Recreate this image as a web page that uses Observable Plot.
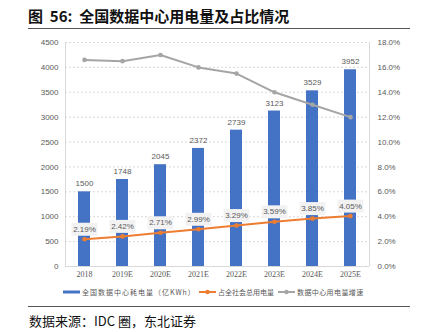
<!DOCTYPE html>
<html><head><meta charset="utf-8">
<script src="https://cdn.jsdelivr.net/npm/d3@7"></script>
<script src="https://cdn.jsdelivr.net/npm/@observablehq/plot@0.6"></script>
<style>
body{margin:0;background:#fff;width:421px;height:332px;position:relative;overflow:hidden;font-family:"Noto Sans CJK SC",sans-serif;}
#title{position:absolute;left:28px;top:5px;font-size:15px;font-weight:bold;color:#111;white-space:nowrap;}
#rule1{position:absolute;left:28px;top:28px;width:382px;height:1px;background:#555;}
#chart{position:absolute;left:0;top:32px;}
#legend{position:absolute;left:0;top:286px;width:421px;height:12px;font-size:7px;color:#595959;white-space:nowrap;}
#legend span.item{position:absolute;top:0;display:inline-flex;align-items:center;height:12px;}
#rule2{position:absolute;left:28px;top:306px;width:382px;height:1px;background:#555;}
#footer{position:absolute;left:29px;top:311px;font-size:13px;color:#111;white-space:nowrap;}
</style></head>
<body>
<div id="title">图&nbsp; 56:&nbsp; 全国数据中心用电量及占比情况</div>
<div id="rule1"></div>
<div id="chart"></div>
<div id="legend"></div>
<div id="rule2"></div>
<div id="footer">数据来源：IDC 圈，东北证券</div>
<script>
const years = ["2018","2019E","2020E","2021E","2022E","2023E","2024E","2025E"];
const consumption = [1500,1748,2045,2372,2739,3123,3529,3952];
const share = [2.19,2.42,2.71,2.99,3.29,3.59,3.85,4.05];
const growth = [16.6,16.5,17.0,16.0,15.5,14.0,13.0,12.0];
const leftTicks = [0,500,1000,1500,2000,2500,3000,3500,4000,4500];
const rightTicks = [0,2,4,6,8,10,12,14,16,18];
const seriesNames = ["全国数据中心耗电量（亿KWh）","占全社会总用电量","数据中心用电量增速"];
const colors = ["#4472C4","#ED7D31","#A5A5A5"];

const K = 4500/18; // right axis mapped onto left domain
const data = years.map((y,i)=>({year:y, c:consumption[i], s:share[i], g:growth[i]}));
const boxSymbol = {draw(ctx){ctx.moveTo(-13,-6.5);ctx.lineTo(13,-6.5);ctx.lineTo(13,6.5);ctx.lineTo(-13,6.5);ctx.closePath();}};

const plot = Plot.plot({
  width:421, height:250,
  marginLeft:65, marginRight:52, marginTop:10, marginBottom:16,
  style:{fontFamily:"'Liberation Sans',sans-serif", fontSize:"8px", color:"#595959", background:"transparent"},
  x:{type:"band", domain:years, padding:0, label:null},
  y:{domain:[0,4500], label:null},
  marks:[
    Plot.gridY(leftTicks.slice(1),{stroke:"#D9D9D9", strokeOpacity:1, strokeDasharray:"2,2"}),
    Plot.ruleX([years[0]],{stroke:"#D9D9D9", dx:-19}),
    Plot.ruleX([years[years.length-1]],{stroke:"#D9D9D9", dx:19}),
    Plot.barY(data,{x:"year", y:"c", fill:colors[0], insetLeft:13, insetRight:13}),
    Plot.ruleY([0],{stroke:"#D9D9D9"}),
    Plot.text(data,{x:"year", y:"c", text:d=>String(d.c), dy:-8, fill:"#595959", fontSize:8}),
    Plot.line(data,{x:"year", y:d=>d.g*K, stroke:colors[2], strokeWidth:2}),
    Plot.dot(data,{x:"year", y:d=>d.g*K, fill:colors[2], r:2.3}),
    Plot.line(data,{x:"year", y:d=>d.s*K, stroke:colors[1], strokeWidth:2}),
    Plot.dot(data,{x:"year", y:d=>d.s*K, fill:colors[1], r:2.3}),
    Plot.dot(data,{x:"year", y:d=>d.s*K, symbol:boxSymbol, fill:"#F2F2F2", stroke:"none", dy:-10}),
    Plot.text(data,{x:"year", y:d=>d.s*K, text:d=>d.s.toFixed(2)+"%", dy:-10, fill:"#595959", fontSize:8}),
    Plot.axisY(leftTicks,{anchor:"left", tickSize:0, tickPadding:7, tickFormat:d=>String(d), fill:"#595959", fontSize:8}),
    Plot.axisY(rightTicks.map(t=>t*K),{anchor:"right", tickSize:0, tickPadding:8, tickFormat:d=>(d/K).toFixed(1)+"%", fill:"#595959", fontSize:8}),
    Plot.axisX({tickSize:0, tickPadding:5, fill:"#595959", fontSize:8, fontFamily:"'Liberation Serif',serif"})
  ]
});
document.getElementById("chart").appendChild(plot);

const lg = document.getElementById("legend");
const legendLeft = [63,199,278];
const legendSpacing = ["1px","0px","0.4px"];
seriesNames.forEach((n,i)=>{
  const it = document.createElement("span"); it.className="item";
  it.style.left = legendLeft[i]+"px";
  let sw;
  if(i===0){
    sw = `<svg width="17" height="4" style="margin-right:2px"><rect x="0" y="0.5" width="17" height="3" fill="${colors[0]}"/></svg>`;
  } else {
    sw = `<svg width="17" height="6" style="margin-right:2px"><line x1="0" y1="3" x2="17" y2="3" stroke="${colors[i]}" stroke-width="2"/><circle cx="8.5" cy="3" r="2.2" fill="${colors[i]}"/></svg>`;
  }
  it.innerHTML = sw + `<span style="letter-spacing:${legendSpacing[i]}">${n}</span>`;
  lg.appendChild(it);
});
</script>
</body></html>
